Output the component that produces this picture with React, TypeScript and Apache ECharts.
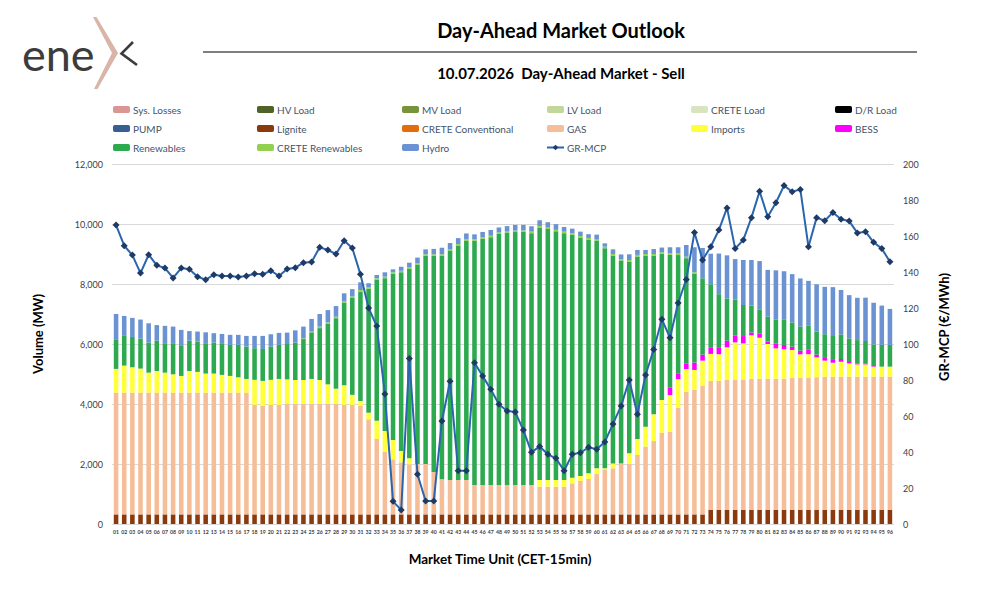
import React, { useEffect, useRef } from "react";
import * as echarts from "echarts";

// Market time units (15-minute intervals)
const categories = [
  "01", "02", "03", "04", "05", "06", "07", "08", "09", "10", "11", "12",
  "13", "14", "15", "16", "17", "18", "19", "20", "21", "22", "23", "24",
  "25", "26", "27", "28", "29", "30", "31", "32", "33", "34", "35", "36",
  "37", "38", "39", "40", "41", "42", "43", "44", "45", "46", "47", "48",
  "49", "50", "51", "52", "53", "54", "55", "56", "57", "58", "59", "60",
  "61", "62", "63", "64", "65", "66", "67", "68", "69", "70", "71", "72",
  "73", "74", "75", "76", "77", "78", "79", "80", "81", "82", "83", "84",
  "85", "86", "87", "88", "89", "90", "91", "92", "93", "94", "95", "96",
];

// Volumes in MW
const lignite = [
  320, 320, 320, 320, 320, 320, 320, 320, 320, 320, 320, 320,
  320, 320, 320, 320, 320, 320, 320, 320, 320, 320, 320, 320,
  320, 320, 320, 320, 320, 320, 320, 320, 320, 320, 320, 320,
  320, 320, 320, 320, 320, 320, 320, 320, 320, 320, 320, 320,
  320, 320, 320, 320, 320, 320, 320, 320, 320, 320, 320, 320,
  320, 320, 320, 320, 320, 320, 320, 320, 320, 320, 320, 320,
  320, 470, 470, 470, 470, 470, 470, 470, 470, 470, 470, 470,
  470, 470, 470, 470, 470, 470, 470, 470, 470, 470, 470, 470,
];

const gas = [
  4060, 4060, 4060, 4060, 4060, 4060, 4060, 4060, 4060, 4060, 4060, 4060,
  4060, 4060, 4060, 4060, 4060, 3650, 3625, 3650, 3650, 3680, 3680, 3680,
  3680, 3680, 3680, 3680, 3650, 3650, 3615, 3170, 2515, 2090, 1835, 1735,
  1670, 1680, 1680, 1415, 1170, 1145, 1145, 1145, 980, 980, 980, 980,
  980, 980, 980, 980, 925, 925, 925, 925, 1035, 1115, 1180, 1345,
  1500, 1535, 1680, 1680, 1980, 2260, 2445, 2725, 2760, 3560, 4090, 4150,
  4280, 4300, 4300, 4330, 4350, 4350, 4375, 4375, 4375, 4375, 4375, 4395,
  4395, 4410, 4420, 4440, 4440, 4440, 4440, 4440, 4440, 4440, 4440, 4440,
];

const imports = [
  790, 900, 845, 800, 665, 720, 665, 610, 555, 720, 690, 635,
  635, 590, 555, 510, 455, 835, 825, 835, 865, 820, 800, 800,
  835, 800, 655, 510, 655, 335, 165, 220, 610, 690, 645, 375,
  200, 0, 0, 0, 0, 0, 0, 0, 0, 0, 0, 0,
  0, 0, 0, 0, 225, 225, 225, 225, 190, 165, 190, 190,
  35, 165, 20, 355, 535, 665, 890, 1090, 1220, 945, 755, 665,
  845, 900, 890, 1090, 1235, 1200, 1445, 1365, 1155, 1010, 980, 935,
  790, 780, 665, 535, 465, 500, 445, 410, 410, 335, 335, 335,
];

const bess = [
  0, 0, 0, 0, 0, 0, 0, 0, 0, 0, 0, 0,
  0, 0, 0, 0, 0, 0, 0, 0, 0, 0, 0, 0,
  0, 0, 0, 0, 0, 0, 0, 0, 0, 0, 0, 0,
  0, 0, 0, 0, 0, 0, 0, 0, 0, 0, 0, 0,
  0, 0, 0, 0, 0, 0, 0, 0, 0, 0, 0, 0,
  0, 0, 0, 0, 0, 0, 0, 0, 245, 180, 190, 245,
  200, 200, 210, 220, 220, 245, 90, 145, 80, 165, 145, 110,
  120, 145, 90, 90, 120, 90, 75, 35, 35, 20, 0, 0,
];

const renewables = [
  965, 990, 1010, 1000, 1000, 1010, 980, 1035, 1000, 1010, 1010, 1010,
  1035, 1055, 1035, 1080, 1080, 1055, 1065, 1110, 1135, 1180, 1245, 1365,
  1555, 1730, 2015, 2350, 2760, 3230, 3650, 4130, 4695, 5095, 5540, 5960,
  6315, 6640, 6940, 7205, 7450, 7650, 7815, 7970, 8140, 8205, 8260, 8370,
  8415, 8430, 8440, 8395, 8415, 8360, 8285, 8225, 8095, 7950, 7795, 7595,
  7340, 6930, 6760, 6395, 6085, 5705, 5295, 4875, 4430, 3960, 3505, 2970,
  2545, 2120, 1790, 1410, 1210, 1035, 900, 800, 835, 800, 835, 810,
  800, 800, 765, 790, 800, 820, 755, 775, 745, 720, 725, 725,
];

const creteRenewables = [
  0, 0, 0, 0, 0, 0, 0, 0, 0, 0, 0, 0,
  0, 0, 0, 0, 0, 0, 0, 0, 0, 0, 0, 25,
  25, 50, 50, 50, 50, 50, 50, 50, 50, 50, 50, 50,
  50, 50, 50, 50, 50, 50, 50, 50, 50, 50, 50, 50,
  50, 50, 50, 50, 50, 50, 50, 50, 50, 50, 50, 50,
  50, 50, 50, 50, 50, 50, 50, 50, 50, 50, 50, 40,
  0, 0, 0, 0, 0, 0, 0, 0, 0, 0, 0, 0,
  0, 0, 0, 0, 0, 0, 0, 0, 0, 0, 0, 0,
];

const hydro = [
  865, 665, 635, 635, 645, 520, 580, 555, 535, 320, 335, 365,
  310, 310, 335, 335, 355, 410, 435, 410, 400, 380, 410, 390,
  420, 420, 410, 355, 255, 245, 255, 135, 110, 145, 100, 135,
  155, 190, 165, 180, 220, 200, 200, 200, 165, 180, 190, 165,
  165, 190, 180, 180, 190, 180, 190, 155, 155, 145, 125, 145,
  110, 155, 155, 190, 165, 135, 165, 155, 200, 210, 390, 835,
  1010, 1020, 1355, 1435, 1345, 1500, 1520, 1610, 1555, 1635, 1620, 1610,
  1610, 1500, 1580, 1580, 1600, 1480, 1445, 1410, 1445, 1390, 1310, 1200,
];

// Greek market clearing price, €/MWh
const grMcp = [
  166.1, 154.6, 149.4, 139.4, 149.6, 143.7, 142.2, 136.7, 142.2, 141.5, 137.4, 135.7,
  138.5, 137.8, 137.8, 137.2, 137.8, 139.0, 138.7, 140.7, 137.8, 141.7, 142.4, 145.2,
  145.6, 153.7, 152.2, 150.0, 157.4, 153.3, 138.7, 120.0, 110.0, 72.2, 12.6, 7.8,
  92.0, 27.6, 12.8, 12.8, 57.2, 79.3, 29.6, 29.6, 89.6, 82.2, 74.8, 66.5,
  62.8, 62.2, 52.2, 39.8, 43.1, 38.7, 36.5, 29.6, 38.7, 39.6, 42.6, 41.5,
  45.6, 55.6, 65.6, 80.0, 61.0, 82.8, 96.9, 113.7, 103.5, 122.8, 135.9, 161.9,
  146.7, 154.0, 163.3, 175.6, 153.0, 157.8, 170.2, 184.8, 170.7, 178.5, 188.0, 184.6,
  185.9, 154.0, 170.2, 168.5, 173.1, 169.3, 168.3, 161.7, 162.4, 156.5, 153.0, 145.7,
];

// Categories listed in the legend without volumes on this day
const emptySeries: [string, string][] = [
  ["Sys. Losses", "#D99694"],
  ["HV Load", "#4F6228"],
  ["MV Load", "#77933C"],
  ["LV Load", "#C3D69B"],
  ["CRETE Load", "#D7E4BD"],
  ["D/R Load", "#000000"],
  ["PUMP", "#376092"],
  ["CRETE Conventional", "#E46C0A"],
];

const stackedSeries: [string, string, number[]][] = [
  ["Lignite", "#8B3A0E", lignite],
  ["GAS", "#F5BE98", gas],
  ["Imports", "#FFFF3A", imports],
  ["BESS", "#FF00FF", bess],
  ["Renewables", "#2DAA4F", renewables],
  ["CRETE Renewables", "#92D050", creteRenewables],
  ["Hydro", "#6B93D3", hydro],
];

const legendColumns = [
  ["Sys. Losses", "PUMP", "Renewables"],
  ["HV Load", "Lignite", "CRETE Renewables"],
  ["MV Load", "CRETE Conventional", "Hydro"],
  ["LV Load", "GAS", "GR-MCP"],
  ["CRETE Load", "Imports"],
  ["D/R Load", "BESS"],
];
const legendLeft = [113, 257, 402, 546, 691, 835];

const FONT = "Lato, 'Noto Sans', sans-serif";

function buildOption(): echarts.EChartsOption {
  const series: any[] = [];
  emptySeries.forEach(([name, color]) => {
    series.push({ name, type: "bar", stack: "mw", data: [], itemStyle: { color } });
  });
  stackedSeries.forEach(([name, color, data]) => {
    series.push({
      name,
      type: "bar",
      stack: "mw",
      barWidth: "56%",
      data,
      itemStyle: { color },
    });
  });
  series.push({
    name: "GR-MCP",
    type: "line",
    yAxisIndex: 1,
    data: grMcp,
    symbol: "diamond",
    symbolSize: 7,
    lineStyle: { color: "#2A66AE", width: 2 },
    itemStyle: { color: "#1F3A64" },
    z: 10,
  });

  return {
    animation: false,
    backgroundColor: "#ffffff",
    textStyle: { fontFamily: FONT },
    legend: legendColumns.map((col, i) => ({
      data: col,
      orient: "vertical",
      left: legendLeft[i],
      top: 103,
      padding: 0,
      itemWidth: 17,
      itemHeight: 7,
      itemGap: 6,
      selectedMode: false,
      textStyle: { color: "#44546A", fontSize: 10, lineHeight: 13, fontFamily: FONT, padding: [0, 0, 0, -2] },
    })),
    grid: { left: 112, right: 90, top: 164, bottom: 69, containLabel: false },
    xAxis: {
      type: "category",
      data: categories,
      axisLine: { show: false },
      axisTick: { show: false },
      axisLabel: {
        interval: 0,
        fontSize: 5.2,
        fontWeight: "bold",
        color: "#404040",
        margin: 5,
        fontFamily: FONT,
      },
    },
    yAxis: [
      {
        type: "value",
        min: 0,
        max: 12000,
        interval: 2000,
        axisLine: { show: false },
        axisTick: { show: false },
        splitLine: { lineStyle: { color: "#D9D9D9", width: 1 } },
        axisLabel: {
          color: "#404040",
          fontSize: 9,
          margin: 9,
          fontFamily: FONT,
          formatter: (v: number) => v.toLocaleString("en-US"),
        },
      },
      {
        type: "value",
        min: 0,
        max: 200,
        interval: 20,
        axisLine: { show: false },
        axisTick: { show: false },
        splitLine: { show: false },
        axisLabel: { color: "#404040", fontSize: 9, margin: 9, fontFamily: FONT },
      },
    ],
    graphic: [
      {
        type: "text",
        x: 561,
        y: 30,
        style: {
          text: "Day-Ahead Market Outlook",
          font: `bold 20px ${FONT}`,
          fill: "#000",
          textAlign: "center",
          textVerticalAlign: "middle",
        },
      },
      {
        type: "line",
        shape: { x1: 203, y1: 52, x2: 917, y2: 52 },
        style: { stroke: "#000", lineWidth: 1 },
      },
      {
        type: "text",
        x: 561,
        y: 73,
        style: {
          text: "10.07.2026  Day-Ahead Market - Sell",
          font: `bold 15px ${FONT}`,
          fill: "#000",
          textAlign: "center",
          textVerticalAlign: "middle",
        },
      },
      {
        type: "text",
        x: 38,
        y: 334,
        rotation: Math.PI / 2,
        style: {
          text: "Volume (MW)",
          font: `bold 13px ${FONT}`,
          fill: "#000",
          textAlign: "center",
          textVerticalAlign: "middle",
        },
      },
      {
        type: "text",
        x: 944,
        y: 327,
        rotation: Math.PI / 2,
        style: {
          text: "GR-MCP (€/MWh)",
          font: `bold 13px ${FONT}`,
          fill: "#000",
          textAlign: "center",
          textVerticalAlign: "middle",
        },
      },
      {
        type: "text",
        x: 500,
        y: 559,
        style: {
          text: "Market Time Unit (CET-15min)",
          font: `bold 13.5px ${FONT}`,
          fill: "#000",
          textAlign: "center",
          textVerticalAlign: "middle",
        },
      },
      // enex logo
      {
        type: "text",
        x: 22,
        y: 54,
        style: {
          text: "ene",
          font: `normal 45px ${FONT}`,
          fill: "#3C3C3C",
          textAlign: "left",
          textVerticalAlign: "middle",
        },
      },
      {
        type: "polyline",
        shape: { points: [[133, 42], [121.5, 53.5], [137, 65]] },
        style: { stroke: "#3C3C3C", lineWidth: 2.6, fill: "none" },
      },
      {
        type: "polygon",
        shape: {
          points: [[93, 17], [96.5, 17], [118, 53], [97.5, 89], [94, 89], [112, 53]],
        },
        style: { fill: "#D9B5A7" },
      },
    ],
    series,
  };
}

export default function App() {
  const ref = useRef<HTMLDivElement>(null);
  useEffect(() => {
    if (!ref.current) return;
    const chart = echarts.init(ref.current, null, { renderer: "svg" });
    chart.setOption(buildOption());
    return () => chart.dispose();
  }, []);
  return (
    <div
      ref={ref}
      style={{ position: "fixed", left: 0, top: 0, width: 984, height: 593 }}
    />
  );
}
